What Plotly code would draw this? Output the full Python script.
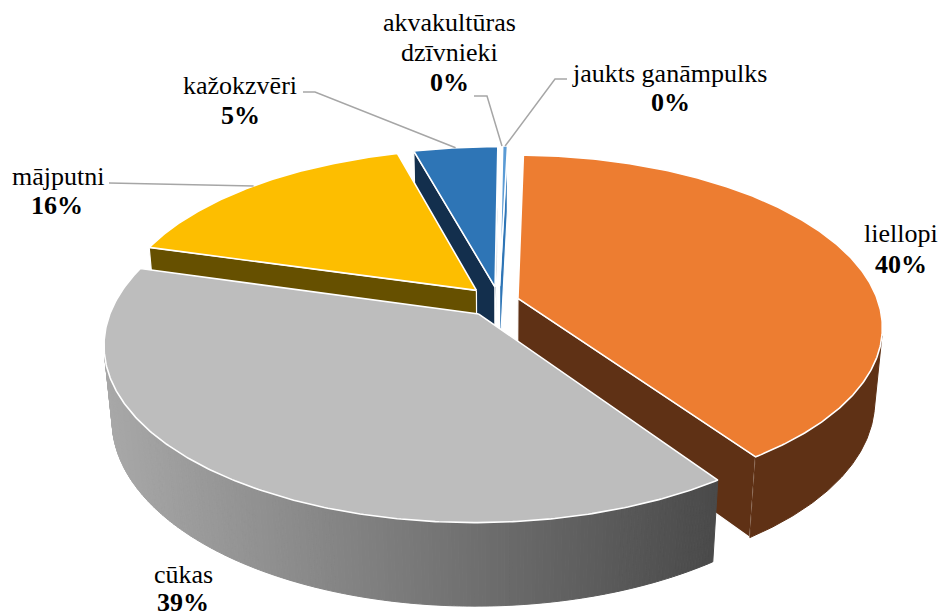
import math
import plotly.graph_objects as go

categories = ["liellopi", "cūkas", "mājputni", "kažokzvēri", "akvakultūras dzīvnieki", "jaukts ganāmpulks"]
values = [40.0, 39.0, 16.3, 4.4, 0.05, 0.25]
percent_labels = ["40%", "39%", "16%", "5%", "0%", "0%"]
top_colors = ["#ED7D31", "#BDBDBD", "#FDBE00", "#2E75B6", "#FFFFFF", "#5B9BD5"]
wall_colors = ["#5F3115", "#6E6E6E", "#665000", "#132F4D", "#FFFFFF", "#2E75B6"]
explode = [0.055, 0.095, 0.09, 0.085, 0.09, 0.09]
radius = [1.0, 1.012, 1.0, 1.0, 1.0, 1.0]

# style / projection parameters
START = 1.5
CX, CY = 499, 301
TILT_S, TILT_C = 0.465, 0.885
D = 5.44
F = 360 * D
H = 0.235
W, HT = 941, 616


def project(x, y, z):
    w = D + y * TILT_C - z * TILT_S
    return CX + F * x / w, CY - F * (y * TILT_S + z * TILT_C) / w


def rim(ang, e_dir, e, r, z=0.0):
    a = math.radians(ang)
    d = math.radians(e_dir)
    return r * math.sin(a) + e * math.sin(d), r * math.cos(a) + e * math.cos(d), z


def poly(points, fill, line=None, lw=0):
    xs = [p[0] for p in points] + [points[0][0]]
    ys = [p[1] for p in points] + [points[0][1]]
    return go.Scatter(x=xs, y=ys, mode="lines", fill="toself", fillcolor=fill,
                      line=dict(color=line or fill, width=lw if line else 1.0),
                      hoverinfo="skip", showlegend=False)


def area(pts):
    s = 0
    for i in range(len(pts)):
        a, b = pts[i], pts[(i + 1) % len(pts)]
        s += a[0] * b[1] - b[0] * a[1]
    return s


def mix(c1, c2, t):
    return "rgb(%d,%d,%d)" % tuple(round(c1[i] + (c2[i] - c1[i]) * t) for i in range(3))


total = sum(values)
angles = []
acc = START
for v in values:
    sweep = v / total * 360
    angles.append((acc, acc + sweep))
    acc += sweep

fig = go.Figure()
order = [3, 2, 4, 5, 0, 1]
rim_mid = {}
for i in order:
    a0, a1 = angles[i]
    mid = (a0 + a1) / 2
    e = explode[i]
    r = radius[i]
    n = max(2, int((a1 - a0) / 0.5))
    arc = [a0 + (a1 - a0) * k / n for k in range(n + 1)]
    ex, ey = e * math.sin(math.radians(mid)), e * math.cos(math.radians(mid))
    apex_t = project(ex, ey, 0)
    apex_b = project(ex, ey, -H)
    rim_t = [project(*rim(a, mid, e, r, 0)) for a in arc]
    rim_b = [project(*rim(a, mid, e, r, -H)) for a in arc]
    rim_mid[i] = project(*rim(mid, mid, e, r, 0))

    # straight walls
    q1 = [apex_t, rim_t[0], rim_b[0], apex_b]
    q2 = [rim_t[-1], apex_t, apex_b, rim_b[-1]]
    for q in (q1, q2):
        if area(q) < 0:
            fig.add_trace(poly(q, wall_colors[i], "#FFFFFF", 1.2))
    # outer wall
    visible = [k for k in range(n)
               if area([rim_t[k], rim_t[k + 1], rim_b[k + 1], rim_b[k]]) < 0]
    if i == 1:
        for k in visible:
            q = [rim_t[k], rim_t[k + 1], rim_b[k + 1], rim_b[k]]
            t = min(1, max(0, ((q[0][0] + q[1][0]) / 2 - 105) / 610))
            fig.add_trace(poly(q, mix((168, 168, 168), (74, 74, 74), t)))
    elif visible:
        tops = [rim_t[k] for k in visible] + [rim_t[visible[-1] + 1]]
        bots = [rim_b[k] for k in visible] + [rim_b[visible[-1] + 1]]
        fig.add_trace(poly(tops + bots[::-1], wall_colors[i]))
    # top face
    fig.add_trace(poly([apex_t] + rim_t, top_colors[i], "#FFFFFF", 1.6))

# leader lines
leaders = {
    3: [(303, 92), (315, 92)],
    2: [(109, 183)],
    4: [(474, 96), (487, 96)],
    5: [(567, 79), (555, 79)],
}
for i, pts in leaders.items():
    end = rim_mid[i]
    line_pts = pts + [end]
    fig.add_trace(go.Scatter(x=[p[0] for p in line_pts], y=[p[1] for p in line_pts], mode="lines",
                             line=dict(color="#A6A6A6", width=1.5), hoverinfo="skip", showlegend=False))

text_font = dict(family="Liberation Serif", size=26, color="#000000")
bold_font = dict(family="Liberation Serif", size=26, color="#000000", weight="bold")
label_lines = [
    (901, 233, "liellopi", text_font), (901, 264, "40%", bold_font),
    (183, 574, "cūkas", text_font), (183, 602, "39%", bold_font),
    (58, 176, "mājputni", text_font), (57, 205, "16%", bold_font),
    (240, 85, "kažokzvēri", text_font), (240, 115, "5%", bold_font),
    (449, 22, "akvakultūras", text_font), (449, 52, "dzīvnieki", text_font), (449, 82, "0%", bold_font),
    (669, 73, "jaukts ganāmpulks", text_font), (670, 102, "0%", bold_font),
]
for x, y, t, f in label_lines:
    fig.add_annotation(x=x, y=y, text=t, font=f, showarrow=False, xanchor="center", yanchor="middle")

fig.update_layout(width=W, height=HT, margin=dict(l=0, r=0, t=0, b=0),
                  paper_bgcolor="#FFFFFF", plot_bgcolor="#FFFFFF", showlegend=False,
                  xaxis=dict(range=[0, W], visible=False, fixedrange=True),
                  yaxis=dict(range=[HT, 0], visible=False, fixedrange=True))
fig.write_html("out.html", config=dict(displayModeBar=False),
               post_script="document.body.style.margin='0';document.body.style.overflow='hidden';")
